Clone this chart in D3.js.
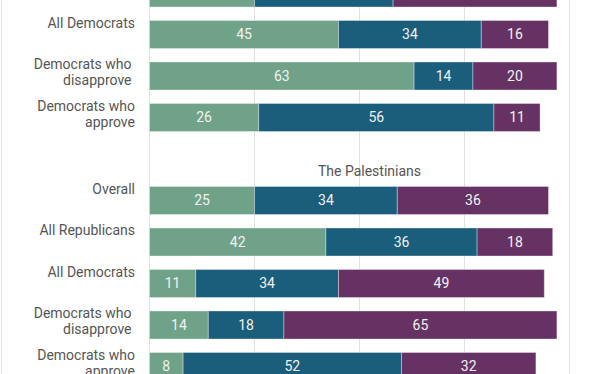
<!DOCTYPE html>
<html>
<head>
<meta charset="utf-8">
<script src="https://cdn.jsdelivr.net/npm/d3@7"></script>
<style>
  html, body { margin: 0; padding: 0; background: #fff; }
  svg { display: block; font-family: Roboto, "Noto Sans", sans-serif; }
</style>
</head>
<body>
<svg id="chart" width="612" height="374"></svg>
<script>
// rows from top to bottom, "title" is the slot of the section heading
const rowIds = ["isr-rep", "isr-dem", "isr-dis", "isr-app", "title", "pal-all", "pal-rep", "pal-dem", "pal-dis", "pal-app"]
const rowLabels = [
  ["All Republicans"], ["All Democrats"], ["Democrats who ", "disapprove "], ["Democrats who", "approve"],
  [],
  ["Overall"], ["All Republicans"], ["All Democrats"], ["Democrats who ", "disapprove "], ["Democrats who", "approve"]
]
const greenValues  = [25, 45, 63, 26, null, 25, 42, 11, 14, 8]
const blueValues   = [33, 34, 14, 56, null, 34, 36, 34, 18, 52]
const purpleValues = [39, 16, 20, 11, null, 36, 18, 49, 65, 32]
const sectionTitle = "The Palestinians"
const ticks = [0, 25, 50, 75, 100]

const colors = {green: "#6fa288", blue: "#1a5e7c", purple: "#663263"}

const svg = d3.select("#chart")

const x = d3.scaleLinear().domain([0, 100]).range([149.5, 569.5])
const step = 41.5
const y = d3.scaleBand()
  .domain(rowIds)
  .range([-27.75, -27.75 + step * rowIds.length])
  .paddingInner(0.325)
  .paddingOuter(0.1625)

// frame line on the left
svg.append("line")
  .attr("x1", 1.5).attr("x2", 1.5)
  .attr("y1", 0).attr("y2", 374)
  .attr("stroke", "#e3e3e3")

// gridlines
svg.append("g")
  .selectAll("line")
  .data(ticks)
  .join("line")
  .attr("x1", d => x(d)).attr("x2", d => x(d))
  .attr("y1", 0).attr("y2", 374)
  .attr("stroke", "#e0e0e0")

let table = rowIds.map((id, i) => ({
  id: id, green: greenValues[i], blue: blueValues[i], purple: purpleValues[i]
})).filter(d => d.green != null)

const stack = d3.stack().keys(["green", "blue", "purple"])
const series = stack(table)

// the top row is cut by the edge of the picture, only its bars show
const visible = d => y(d.data.id) + y.bandwidth() / 2 > 0

const bars = svg.append("g")
series.forEach(s => {
  let g = bars.append("g")
  g.selectAll("rect")
    .data(s)
    .join("rect")
    .attr("x", d => x(d[0]))
    .attr("width", d => x(d[1]) - x(d[0]))
    .attr("y", d => y(d.data.id))
    .attr("height", y.bandwidth())
    .attr("fill", colors[s.key])
    .attr("stroke", "rgba(255,255,255,0.35)")
    .attr("stroke-width", 1)

  g.selectAll("text")
    .data(s.filter(visible))
    .join("text")
    .attr("x", d => (x(d[0]) + x(d[1])) / 2)
    .attr("y", d => y(d.data.id) + y.bandwidth() / 2)
    .attr("dy", "0.35em")
    .attr("text-anchor", "middle")
    .attr("fill", "#f2f2f2")
    .style("font-size", "14px")
    .text(d => d[1] - d[0])
})

// row labels
const lab = svg.append("g")
rowIds.forEach((id, i) => {
  if (!rowLabels[i].length) return
  if (y(id) + 7.5 < 0) return
  let t = lab.append("text")
    .attr("xml:space", "preserve")
    .attr("text-anchor", "end")
    .attr("fill", "#555")
    .style("font-size", "14px")
  rowLabels[i].forEach((line, j) => {
    t.append("tspan")
      .attr("x", 135)
      .attr("y", y(id) + 7.5 + j * 16)
      .text(line)
  })
})

// section heading
svg.append("text")
  .attr("x", x(50) + 10)
  .attr("y", y("title") + y.bandwidth() + 3)
  .attr("text-anchor", "middle")
  .attr("fill", "#555")
  .style("font-size", "14px")
  .text(sectionTitle)
</script>
</body>
</html>
